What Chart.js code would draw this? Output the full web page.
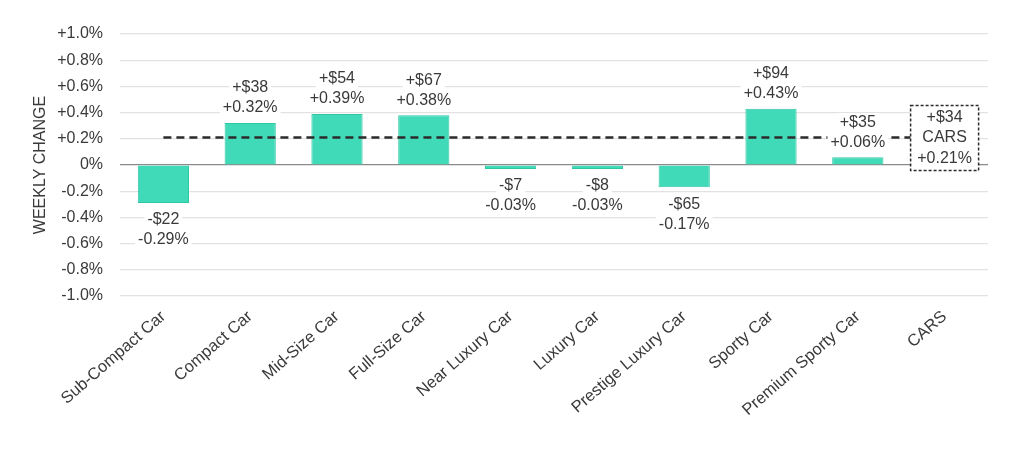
<!DOCTYPE html>
<html>
<head>
<meta charset="utf-8">
<style>
  html, body { margin: 0; padding: 0; background: #fff; }
  #wrap { width: 1024px; height: 452px; }
</style>
<script src="https://cdn.jsdelivr.net/npm/chart.js@4.4.1/dist/chart.umd.min.js"></script>
</head>
<body>
<div id="wrap"><canvas id="chart" width="1024" height="452"></canvas></div>
<script>
const categories = ['Sub-Compact Car', 'Compact Car', 'Mid-Size Car', 'Full-Size Car', 'Near Luxury Car',
    'Luxury Car', 'Prestige Luxury Car', 'Sporty Car', 'Premium Sporty Car', 'CARS'];
const pctChange = [-0.29, 0.32, 0.39, 0.38, -0.03, -0.03, -0.17, 0.43, 0.06, null];
const dollarChange = ['-$22', '+$38', '+$54', '+$67', '-$7', '-$8', '-$65', '+$94', '+$35', '+$34'];
const pctLabels = ['-0.29%', '+0.32%', '+0.39%', '+0.38%', '-0.03%', '-0.03%', '-0.17%', '+0.43%', '+0.06%', '+0.21%'];
const carsAverage = 0.21;
const yTickLabels = ['-1.0%', '-0.8%', '-0.6%', '-0.4%', '-0.2%', '0%', '+0.2%', '+0.4%', '+0.6%', '+0.8%', '+1.0%'];

const FONT = 'Liberation Sans, Arial, sans-serif';
const TEXT = '#3a3a3a';

// value labels + CARS box + dashed average line
const annotations = {
    id: 'annotations',
    afterDatasetsDraw(chart) {
        const ctx = chart.ctx;
        const x = chart.scales.x;
        const y = chart.scales.y;
        const last = categories.length - 1;
        const boxW = 68, boxH = 65;
        const boxX = x.getPixelForValue(last) - boxW / 2;
        const avgY = y.getPixelForValue(carsAverage);
        const boxY = avgY - 32;

        ctx.save();
        // dashed line
        ctx.strokeStyle = '#2b2b2b';
        ctx.lineWidth = 2.5;
        ctx.setLineDash([8, 5]);
        ctx.beginPath();
        ctx.moveTo(x.getPixelForValue(0), avgY);
        ctx.lineTo(boxX, avgY);
        ctx.stroke();

        ctx.font = '16px ' + FONT;
        ctx.textAlign = 'center';
        ctx.textBaseline = 'middle';

        function label(cx, cy, text) {
            const w = ctx.measureText(text).width;
            ctx.fillStyle = '#fff';
            ctx.fillRect(cx - w / 2 - 3, cy - 9, w + 6, 18);
            ctx.fillStyle = TEXT;
            ctx.fillText(text, cx, cy);
        }

        for (let i = 0; i < last; i++) {
            const v = pctChange[i];
            const cx = x.getPixelForValue(i);
            const end = y.getPixelForValue(v);
            if (v >= 0) {
                label(cx, end - 15 - 20, dollarChange[i]);
                label(cx, end - 15, pctLabels[i]);
            } else {
                label(cx, end + 17, dollarChange[i]);
                label(cx, end + 17 + 20, pctLabels[i]);
            }
        }

        // CARS box
        ctx.setLineDash([3, 2]);
        ctx.lineWidth = 1.5;
        ctx.fillStyle = '#fff';
        ctx.fillRect(boxX, boxY, boxW, boxH);
        ctx.strokeRect(boxX, boxY, boxW, boxH);
        ctx.setLineDash([]);
        ctx.fillStyle = TEXT;
        const bx = boxX + boxW / 2;
        ctx.fillText(dollarChange[last], bx, boxY + 12);
        ctx.fillText(categories[last], bx, boxY + 32);
        ctx.fillText(pctLabels[last], bx, boxY + 53);
        ctx.restore();
    }
};

new Chart(document.getElementById('chart'), {
    type: 'bar',
    data: {
        labels: categories,
        datasets: [{
            data: pctChange,
            backgroundColor: '#40dab9',
            borderColor: '#2fc6a4',
            borderWidth: 1,
            barPercentage: 0.59,
            categoryPercentage: 1
        }]
    },
    options: {
        responsive: false,
        animation: false,
        layout: { padding: { top: 34, right: 36, left: 31, bottom: 0 } },
        plugins: {
            legend: { display: false },
            tooltip: { enabled: false }
        },
        scales: {
            x: {
                grid: { display: false },
                border: { display: false },
                ticks: {
                    color: TEXT,
                    font: { family: FONT, size: 16.5 },
                    maxRotation: 41,
                    minRotation: 41,
                    autoSkip: false
                },
                afterFit(scale) { scale.height = 156; }
            },
            y: {
                min: -1,
                max: 1,
                ticks: {
                    stepSize: 0.2,
                    color: TEXT,
                    padding: 17,
                    font: { family: FONT, size: 16 },
                    callback: (val, i) => yTickLabels[i]
                },
                grid: {
                    drawTicks: false,
                    lineWidth: 1.2,
                    color: ctx => Math.abs(ctx.tick.value) < 1e-9 ? '#8a8a8a' : '#e2e2e2'
                },
                border: { display: false },
                title: {
                    display: true,
                    text: 'WEEKLY CHANGE',
                    color: TEXT,
                    font: { family: FONT, size: 16 },
                    padding: { top: 0, bottom: 0 }
                },
                afterFit(scale) { scale.width = 89; }
            }
        }
    },
    plugins: [annotations]
});
</script>
</body>
</html>
